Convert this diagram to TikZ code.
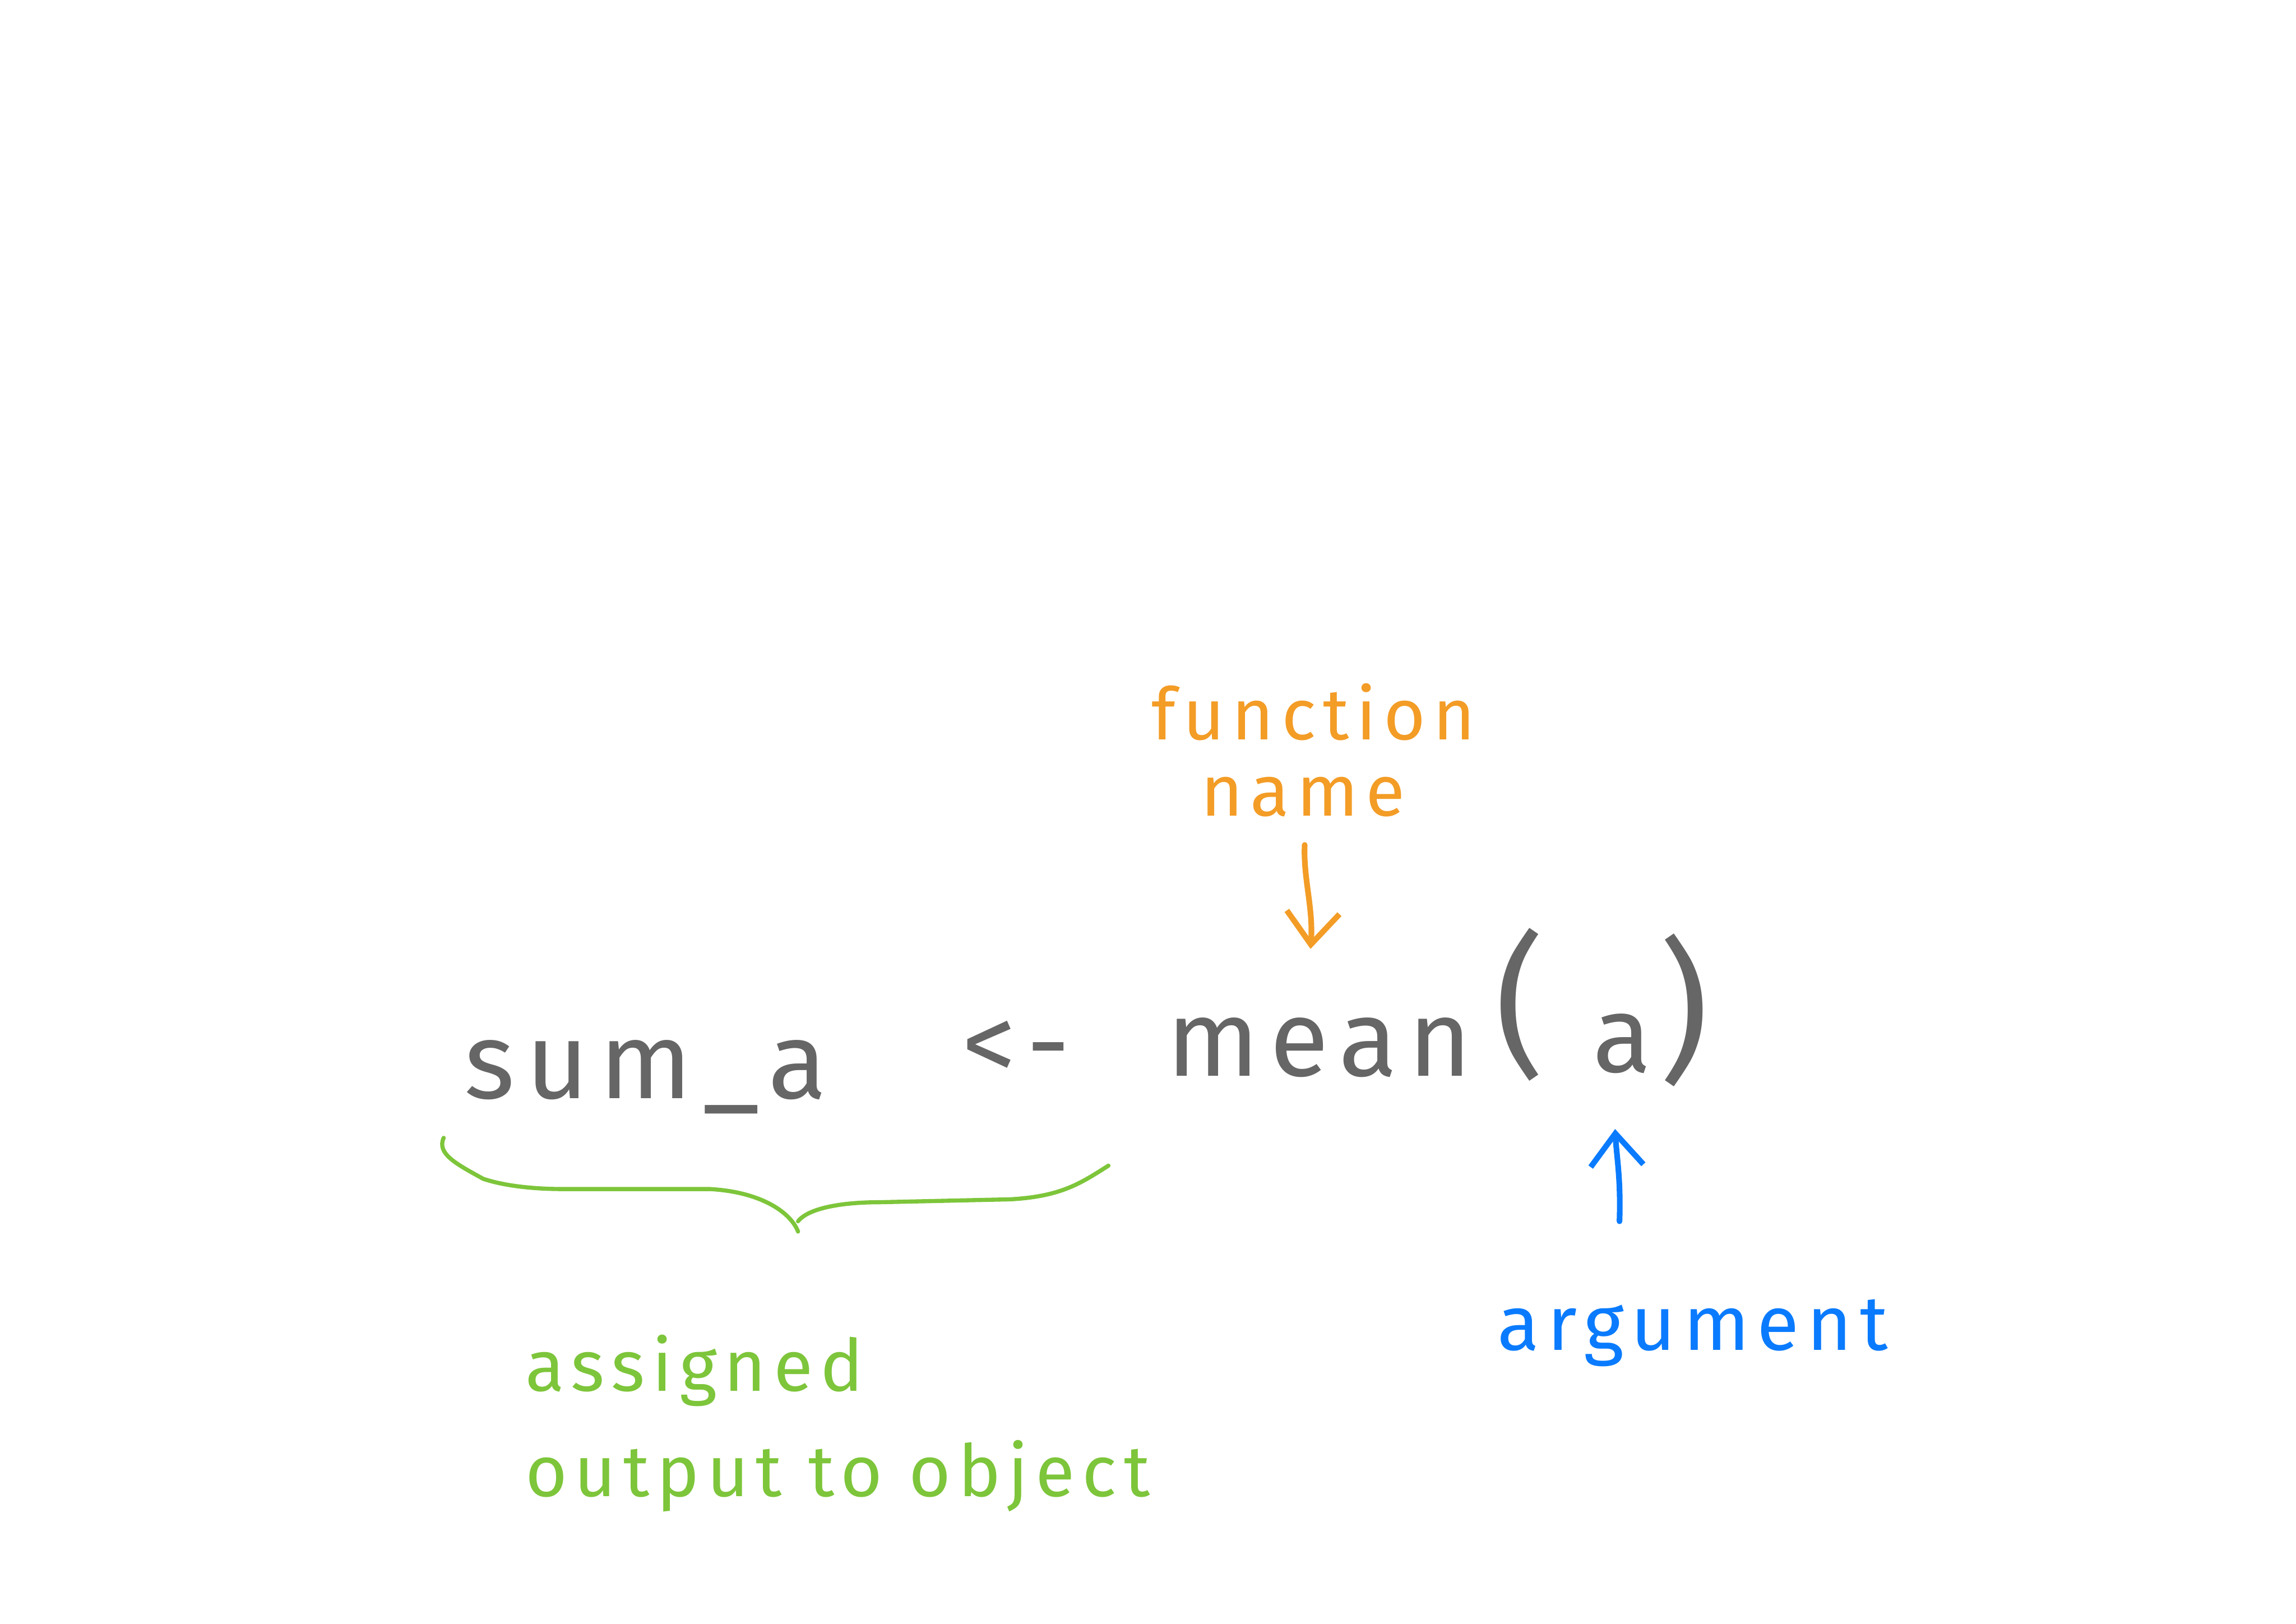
\documentclass[tikz,border=0pt]{standalone}
\usepackage{fontspec}
\usetikzlibrary{arrows.meta}
\newfontfamily\handfont{Fira Sans}[LetterSpace=10.0]
\definecolor{codegray}{HTML}{666666}
\definecolor{fnorange}{HTML}{F39C26}
\definecolor{argblue}{HTML}{0A7BFF}
\definecolor{asgreen}{HTML}{7DC53A}
\tikzset{
  code/.style={text=codegray, font=\handfont\fontsize{21}{25}\selectfont, inner sep=0pt},
  paren/.style={text=codegray, font=\handfont\fontsize{30}{36}\selectfont, inner sep=0pt},
  fnlabel/.style={text=fnorange, font=\handfont\fontsize{14}{17}\selectfont, inner sep=0pt},
  arglabel/.style={text=argblue, font=\handfont\fontsize{15}{18}\selectfont, inner sep=0pt},
  aslabel/.style={text=asgreen, font=\handfont\fontsize{14}{17}\selectfont, inner sep=0pt},
  pointer/.style={line width=1.1pt, line cap=round, -{Straight Barb[length=2.2mm,width=3.6mm,line width=1.1pt]}},
  brace/.style={draw=asgreen, line width=0.8pt, line cap=round, line join=round}
}
\begin{document}
\begin{tikzpicture}[x=0.01cm,y=-0.01cm]
\useasboundingbox (0,0) rectangle (1568,1109);
% code line
\node[code, anchor=base] (suma) at (441,750) {sum\_a};
\node[code, anchor=base] (assign) at (694,738) {<-};
\node[code, anchor=base] (mean) at (901,735) {mean};
\node[paren, anchor=center] (lparen) at (1038,686) {(};
\node[code, anchor=base] (arga) at (1108,732) {a};
\node[paren, anchor=center] (rparen) at (1150,690) {)};
% function name
\node[fnlabel, anchor=base] (fn1) at (897,505) {function};
\node[fnlabel, anchor=base] (fn2) at (890,557) {name};
\coordinate (fnstart) at (891,577);
\coordinate (fnend) at (895,648);
\draw[pointer, draw=fnorange] (fnstart) .. controls (890,600) and (897,620) .. (fnend);
% argument
\node[arglabel, anchor=base] (argl) at (1156,922) {argument};
\coordinate (argstart) at (1106,834);
\coordinate (argend) at (1103,771);
\draw[pointer, draw=argblue] (argstart) .. controls (1107,805) and (1104,790) .. (argend);
% brace
\coordinate (bl) at (303,777);
\coordinate (btip) at (545,841);
\coordinate (br) at (757,796);
\draw[brace] (bl) .. controls (298,788) and (312,795) .. (330,805)
  .. controls (345,810) and (365,812) .. (385,812) -- (485,812)
  .. controls (520,814) and (540,828) .. (btip);
\draw[brace] (545,834) .. controls (552,825) and (575,821) .. (600,821)
  -- (690,819) .. controls (725,817) and (738,808) .. (br);
% assigned output to object
\node[aslabel, anchor=base west] (as1) at (358,950) {assigned};
\node[aslabel, anchor=base west] (as2) at (358,1022) {output to object};
\end{tikzpicture}
\end{document}
